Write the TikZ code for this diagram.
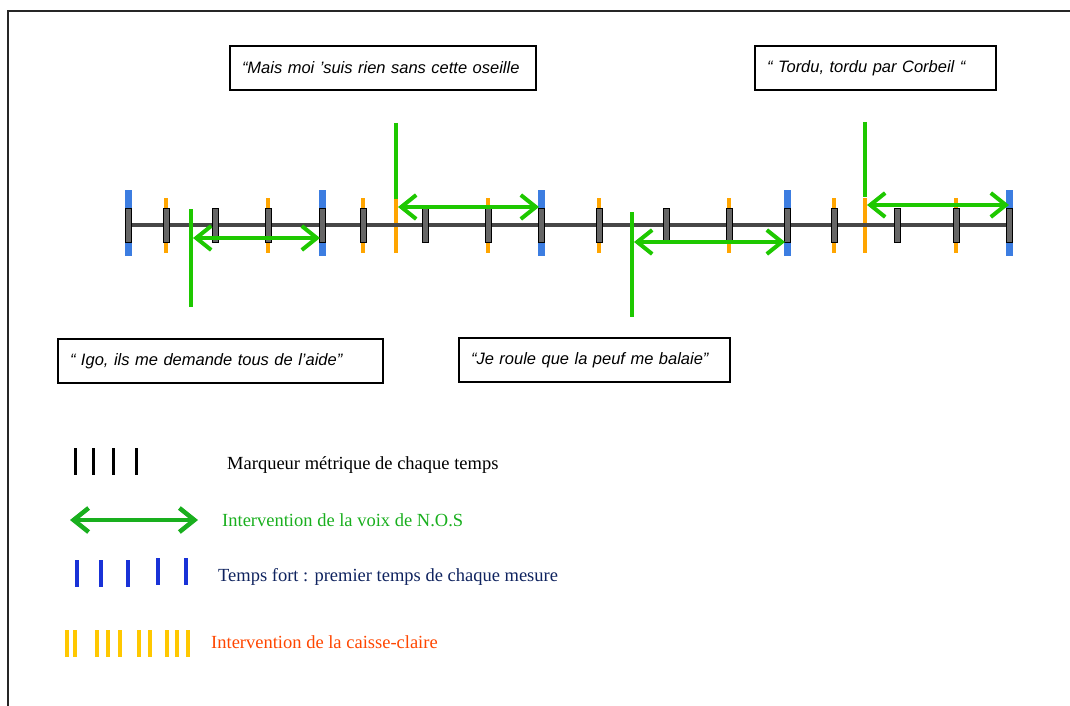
\documentclass[tikz,border=0pt]{standalone}
\usepackage{fontspec}
\setmainfont{Liberation Serif}
\newfontfamily\quotefont{Liberation Sans}
\usepackage{xcolor}
\usetikzlibrary{arrows.meta,positioning}

\definecolor{voix}{RGB}{30,200,0}
\definecolor{voixleg}{RGB}{25,175,30}
\definecolor{fort}{RGB}{60,125,225}
\definecolor{fortleg}{RGB}{25,50,215}
\definecolor{fortnavy}{RGB}{15,35,95}
\definecolor{caisse}{RGB}{255,165,0}
\definecolor{caisseleg}{RGB}{255,200,0}
\definecolor{caissetxt}{RGB}{255,70,0}

\begin{document}
\begin{tikzpicture}[x=1pt, y=-1pt,
    quote/.style={draw, line width=2pt, anchor=north west, inner xsep=12pt, minimum height=44pt,
        align=left, font=\quotefont\itshape\fontsize{16.5}{19}\selectfont},
    legtext/.style={anchor=west, inner sep=0pt, font=\fontsize{18.5}{22}\selectfont},
    beat/.style={draw=black, fill=black!60, line width=1pt},
    snare/.style={draw=caisse, line width=4.5pt},
    strong/.style={draw=fort, line width=7pt},
    voixline/.style={draw=voix, line width=4pt},
    voixarrow/.style={draw=voix, line width=4pt, {Straight Barb[length=15pt,width=24pt]}-{Straight Barb[length=15pt,width=24pt]}}
]
    \useasboundingbox (0,0) rectangle (1070,706);
    \draw [line width=2pt, black!85] (8,706) -- (8,11) -- (1070,11);

    % quotes
    \node (mais) [quote, text width=282pt] at (229,45) {“Mais moi ’suis rien sans cette oseille};
    \node (tordu) [quote, text width=217pt] at (754,45) {“ Tordu, tordu par Corbeil “};
    \node (igo) [quote, text width=301pt] at (57,338) {“ Igo, ils me demande tous de l’aide”};
    \node (roule) [quote, text width=247pt] at (458,337) {“Je roule que la peuf me balaie”};

    % timeline
    \foreach \x in {166,268,363,396,488,599,729,834,865,956}
        \draw [snare] (\x,198) -- (\x,253);
    \foreach \x in {128,322,541,787,1009}
        \draw [strong] (\x,190) -- (\x,256);
    \draw [line width=4.5pt, black!72] (125,225) -- (1011,225);
    \foreach \x in {128,166,215,268,322,363,425,488,541,599,666,729,787,834,897,956,1009}
        \draw [beat] ({\x-3},208) rectangle ({\x+3},242);

    % interventions N.O.S
    \coordinate (v1a) at (191,209);
    \coordinate (v1b) at (191,307);
    \coordinate (a1l) at (193,238);
    \coordinate (a1r) at (320,238);
    \coordinate (v2a) at (396,123);
    \coordinate (v2b) at (396,199);
    \coordinate (a2l) at (398,207);
    \coordinate (a2r) at (539,207);
    \coordinate (v3a) at (632,212);
    \coordinate (v3b) at (632,317);
    \coordinate (a3l) at (634,242);
    \coordinate (a3r) at (785,242);
    \coordinate (v4a) at (865,122);
    \coordinate (v4b) at (865,197);
    \coordinate (a4l) at (867,205);
    \coordinate (a4r) at (1009,205);
    \draw [voixline] (v1a) -- (v1b);
    \draw [voixarrow] (a1l) -- (a1r);
    \draw [voixline] (v2a) -- (v2b);
    \draw [voixarrow] (a2l) -- (a2r);
    \draw [voixline] (v3a) -- (v3b);
    \draw [voixarrow] (a3l) -- (a3r);
    \draw [voixline] (v4a) -- (v4b);
    \draw [voixarrow] (a4l) -- (a4r);

    % legende
    \foreach \x in {75,93,113,136}
        \draw [line width=3pt, black] (\x,448) -- (\x,475);
    \node (marq) [legtext] at (227,465) {Marqueur métrique de chaque temps};

    \coordinate (legl) at (70,520);
    \coordinate (legr) at (198,520);
    \draw [draw=voixleg, line width=4.5pt, {Straight Barb[length=15pt,width=24pt]}-{Straight Barb[length=15pt,width=24pt]}] (legl) -- (legr);
    \node (voixtxt) [legtext, text=voixleg] at (222,520) {Intervention de la voix de N.O.S};

    \foreach \x/\y in {77/560,101/560,128/560,158/558,186/558}
        \draw [line width=4pt, fortleg] (\x,\y) -- (\x,\y+27);
    \node (forttxt) [legtext, text=fortnavy] at (218,577) {Temps fort : premier temps de chaque mesure};

    \foreach \x in {67,75,97,108,120,139,150,167,177,188}
        \draw [line width=4pt, caisseleg] (\x,630) -- (\x,657);
    \node (caissetxt) [legtext, text=caissetxt] at (211,642) {Intervention de la caisse-claire};
\end{tikzpicture}
\end{document}
